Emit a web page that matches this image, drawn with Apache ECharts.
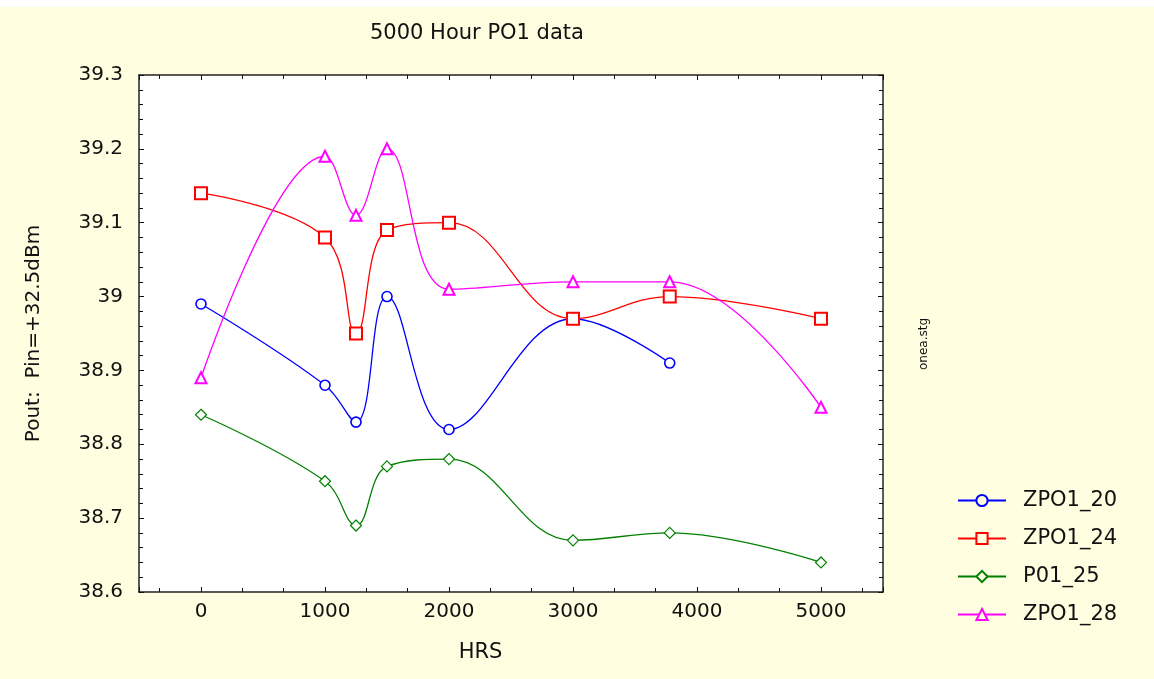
<!DOCTYPE html>
<html>
<head>
<meta charset="utf-8">
<title>5000 Hour PO1 data</title>
<script src="https://cdn.jsdelivr.net/npm/echarts@6/dist/echarts.min.js"></script>
<style>
  html, body { margin: 0; padding: 0; background: #fff; }
  #main { position: absolute; left: 0; top: 7px; width: 1154px; height: 672px; }
</style>
</head>
<body>
<div id="main"></div>
<script>
// 数据
const hrs = [0, 1000, 1250, 1500, 2000, 3000, 3780, 5000];
const zpo1_20 = [38.99, 38.88, 38.83, 39.00, 38.82, 38.97, 38.91, null];
const zpo1_24 = [39.14, 39.08, 38.95, 39.09, 39.10, 38.97, 39.00, 38.97];
const p01_25 = [38.84, 38.75, 38.69, 38.77, 38.78, 38.67, 38.68, 38.64];
const zpo1_28 = [38.89, 39.19, 39.11, 39.20, 39.01, 39.02, 39.02, 38.85];
const seriesNames = ['ZPO1_20', 'ZPO1_24', 'P01_25', 'ZPO1_28'];

const bg = '#FFFEE0';
const font = 'DejaVu Sans';

function pairs(vals) {
  return hrs.map((h, i) => [h, vals[i]]).filter(p => p[1] != null);
}

// 1.实例化对象
const chart = echarts.init(document.getElementById('main'));

function makeSeries(name, vals, color, symbol, size, bw) {
  return {
    name: name,
    type: 'line',
    data: pairs(vals),
    smooth: 0.4,
    symbol: symbol,
    symbolSize: size,
    showAllSymbol: true,
    lineStyle: { color: color, width: 1.3 },
    itemStyle: { color: '#fff', borderColor: color, borderWidth: bw },
    emphasis: { disabled: true },
    z: 3
  };
}

const tickStyle = { color: '#111', width: 1 };

// 2.指定配置和数据
const option = {
  backgroundColor: bg,
  animation: false,
  title: {
    text: '5000 Hour PO1 data',
    left: 370,
    top: 16,
    padding: 0,
    textStyle: { fontFamily: font, fontSize: 21, fontWeight: 'normal', color: '#111' }
  },
  legend: {
    orient: 'vertical',
    left: 952,
    top: 478,
    itemWidth: 48,
    itemHeight: 14,
    itemGap: 17,
    data: seriesNames,
    itemStyle: { color: bg },
    textStyle: { fontFamily: font, fontSize: 21, color: '#111', lineHeight: 20, padding: [0, 0, 0, 12] }
  },
  grid: { left: 139, right: 271, top: 68, bottom: 87 },
  xAxis: [
    {
      type: 'value',
      min: -500,
      max: 5500,
      splitNumber: 6,
      name: 'HRS',
      nameLocation: 'middle',
      nameGap: 50,
      nameTextStyle: { fontFamily: font, fontSize: 21, color: '#111', padding: [0, 61, 0, 0] },
      axisLine: { show: true, onZero: false, lineStyle: { color: '#222', width: 1.5 } },
      axisTick: { inside: true, length: 5, lineStyle: tickStyle },
      minorTick: { show: true, splitNumber: 3, length: 4, lineStyle: tickStyle },
      axisLabel: {
        margin: 10, fontFamily: font, fontSize: 20, color: '#111',
        showMinLabel: false, showMaxLabel: false,
        formatter: function (v) { return String(v); }
      },
      splitLine: { show: false }
    },
    {
      type: 'value',
      position: 'top',
      min: -500,
      max: 5500,
      splitNumber: 6,
      axisLine: { show: true, onZero: false, lineStyle: { color: '#222', width: 1.5 } },
      axisTick: { inside: true, length: 5, lineStyle: tickStyle },
      minorTick: { show: true, splitNumber: 3, length: 4, lineStyle: tickStyle },
      axisLabel: { show: false },
      splitLine: { show: false }
    }
  ],
  yAxis: [
    {
      type: 'value',
      min: 38.6,
      max: 39.3,
      interval: 0.1,
      name: 'Pout:  Pin=+32.5dBm',
      nameLocation: 'middle',
      nameGap: 95,
      nameTextStyle: { fontFamily: font, fontSize: 20, color: '#111' },
      axisLine: { show: true, onZero: false, lineStyle: { color: '#222', width: 1.5 } },
      axisTick: { inside: true, length: 5, lineStyle: tickStyle },
      minorTick: { show: true, splitNumber: 5, length: 4, lineStyle: tickStyle },
      axisLabel: { margin: 16, fontFamily: font, fontSize: 20, color: '#111' },
      splitLine: { show: false }
    },
    {
      type: 'value',
      position: 'right',
      min: 38.6,
      max: 39.3,
      interval: 0.1,
      axisLine: { show: true, onZero: false, lineStyle: { color: '#222', width: 1.5 } },
      axisTick: { inside: true, length: 5, lineStyle: tickStyle },
      minorTick: { show: true, splitNumber: 5, length: 4, lineStyle: tickStyle },
      axisLabel: { show: false },
      splitLine: { show: false }
    }
  ],
  graphic: [
    {
      type: 'rect',
      z: -1,
      shape: { x: 139, y: 68, width: 744, height: 517 },
      style: { fill: '#fff' }
    },
    {
      type: 'text',
      x: 924,
      y: 337,
      rotation: Math.PI / 2,
      style: {
        text: 'onea.stg', fontFamily: font, fontSize: 12, fill: '#111',
        textAlign: 'center', textVerticalAlign: 'middle'
      }
    }
  ],
  series: [
    makeSeries('ZPO1_20', zpo1_20, '#0000FF', 'circle', 10, 1.6),
    makeSeries('ZPO1_24', zpo1_24, '#FF0000', 'rect', 12, 2),
    makeSeries('P01_25', p01_25, '#008000', 'diamond', 11, 1.2),
    makeSeries('ZPO1_28', zpo1_28, '#FF00FF', 'triangle', 11, 2)
  ]
};

// 3.把配置给实例对象
chart.setOption(option);
</script>
</body>
</html>
